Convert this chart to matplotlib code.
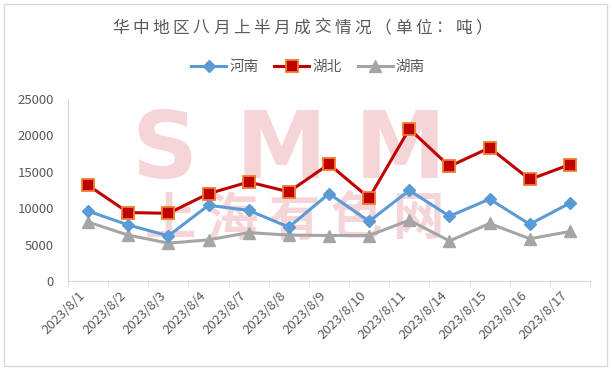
import matplotlib.pyplot as plt
from matplotlib.patches import Rectangle

plt.rcParams['font.family'] = ['Noto Sans CJK SC', 'DejaVu Sans']

# данные
dates = ['2023/8/1', '2023/8/2', '2023/8/3', '2023/8/4', '2023/8/7', '2023/8/8', '2023/8/9',
         '2023/8/10', '2023/8/11', '2023/8/14', '2023/8/15', '2023/8/16', '2023/8/17']
henan = [9600, 7700, 6200, 10400, 9700, 7400, 12000, 8200, 12450, 8900, 11250, 7800, 10700]
hubei = [13150, 9400, 9300, 12000, 13600, 12250, 16050, 11400, 20900, 15750, 18300, 13950, 16000]
hunan = [8100, 6300, 5200, 5650, 6650, 6300, 6250, 6250, 8350, 5500, 7900, 5800, 6800]
series_names = ['河南', '湖北', '湖南']
title = '华中地区八月上半月成交情况（单位：吨）'

W, H = 612, 373
fig = plt.figure(figsize=(W / 100, H / 100), dpi=100)

# рамка вокруг диаграммы
fig.patches.append(Rectangle((4 / W, 1 - 366 / H), 603 / W, 362 / H, transform=fig.transFigure,
                             fill=False, edgecolor='#D9D9D9', lw=1))

ax = fig.add_axes([68 / W, 1 - 281 / H, 522 / W, 182 / H])
ax.set_zorder(2)
ax.patch.set_alpha(0)

# водяной знак SMM / 上海有色网 (под линиями)
wm = '#F5D5D8'
for ch, xc in zip('SMM', [164, 281, 400]):
    fig.text(xc / W, 1 - 152 / H, ch, fontsize=66, fontweight='heavy', family='DejaVu Sans',
             color=wm, ha='center', va='center', zorder=0)
for i, ch in enumerate('上海有色网'):
    fig.text((170 + i * 62) / W, 1 - 219 / H, ch, fontsize=37, fontweight='bold',
             color=wm, ha='center', va='center', zorder=0)

x = range(len(dates))
ax.plot(x, henan, color='#5B9BD5', lw=2.2, marker='D', ms=6, mec='#5B9BD5', label=series_names[0], zorder=3)
ax.plot(x, hubei, color='#C00000', lw=2.2, marker='s', ms=9, mfc='#C00000', mec='#ED7D31', mew=1.3,
        label=series_names[1], zorder=4)
ax.plot(x, hunan, color='#A5A5A5', lw=2.2, marker='^', ms=8, mec='#A5A5A5', label=series_names[2], zorder=2)

ax.set_xlim(-0.5, len(dates) - 0.5)
ax.set_ylim(0, 25000)
ax.set_yticks(range(0, 25001, 5000))
ax.tick_params(axis='y', length=0, pad=10, labelsize=9.5, labelcolor='#595959')

ax.set_xticks(list(x))
ax.set_xticklabels(dates, rotation=45, ha='right', va='top', fontsize=9.5, color='#595959')
ax.set_xticks([i - 0.5 for i in range(len(dates) + 1)], minor=True)
ax.tick_params(axis='x', which='major', length=0, pad=6)
ax.tick_params(axis='x', which='minor', length=4, color='#D9D9D9', direction='out')

for s in ['top', 'right']:
    ax.spines[s].set_visible(False)
ax.spines['left'].set_color('#D9D9D9')
ax.spines['bottom'].set_color('#D9D9D9')

# заголовок с разрядкой
for i, ch in enumerate(title):
    fig.text((112 + i * 20.2) / W, 1 - 28 / H, ch, fontsize=12, color='#595959', ha='left', va='center')

fig.legend(loc='center', bbox_to_anchor=(308 / W, 1 - 67 / H), ncol=3, frameon=False, fontsize=10.5,
           handlelength=2.4, handletextpad=0.2, columnspacing=1.1, labelcolor='#595959')

fig.savefig('out.png', dpi=100)
